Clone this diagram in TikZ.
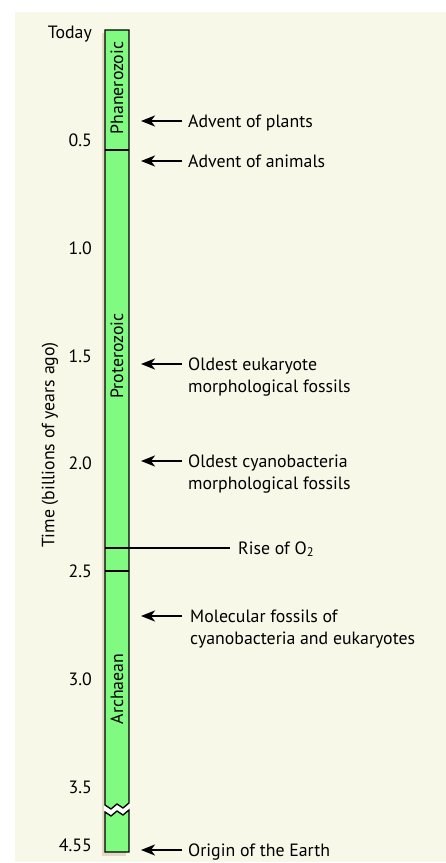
\documentclass[tikz,border=0pt]{standalone}
\usepackage{fontspec}
\setmainfont{PT Sans}
\usetikzlibrary{arrows.meta}
\definecolor{cream}{RGB}{248,248,232}
\definecolor{bargreen}{RGB}{128,250,128}
\definecolor{shadowc}{RGB}{220,210,188}
\begin{document}
\begin{tikzpicture}[x=1pt,y=-1pt,
  lbl/.style={font=\fontsize{17.8}{22}\selectfont, inner sep=0pt},
  ticklbl/.style={lbl, anchor=base east},
  evt/.style={lbl, anchor=base west, align=left},
  era/.style={lbl, rotate=90, anchor=center},
  evarrow/.style={line width=2pt, -{Stealth[length=14pt,width=11pt,inset=4pt]}},
  barline/.style={line width=1.3pt}]
\useasboundingbox (0,0) rectangle (446,863);
\fill[white] (0,0) rectangle (446,863);
\fill[cream] (15,12) rectangle (446,862);
% shadow
\fill[shadowc, opacity=0.8] (102,33) rectangle (126,855.5);
% gap of the break
\fill[white] (104,805) -- (111,809) -- (117,804) -- (123,808) -- (130,803)
  -- (130,810) -- (123,815) -- (117,811) -- (111,816) -- (104,812) -- cycle;
% upper bar part
\fill[bargreen, draw=black, line width=1.3pt] (105,30) -- (129,30) -- (129,803)
  -- (123,808) -- (117,804) -- (111,809) -- (105,805) -- cycle;
% lower bar part
\fill[bargreen, draw=black, line width=1.3pt] (105,812) -- (111,816) -- (117,811)
  -- (123,815) -- (129,810) -- (129,852) -- (105,852) -- cycle;
% boundaries
\coordinate (b1l) at (105,150); \coordinate (b1r) at (129,150);
\draw[barline] (b1l) -- (b1r);
\coordinate (b2l) at (105,571); \coordinate (b2r) at (129,571);
\draw[barline] (b2l) -- (b2r);
% era labels
\node[era] (phan) at (117,88) {Phanerozoic};
\node[era] (prot) at (117,356) {Proterozoic};
\node[era] (arch) at (117,689) {Archaean};
% axis title
\node[lbl, rotate=90] (axis) at (50,445) {Time (billions of years ago)};
% tick labels
\node[ticklbl] (t0) at (92,38) {Today};
\node[ticklbl] (t05) at (92,146.5) {0.5};
\node[ticklbl] (t10) at (92,254) {1.0};
\node[ticklbl] (t15) at (92,362) {1.5};
\node[ticklbl] (t20) at (92,469.5) {2.0};
\node[ticklbl] (t25) at (92,577.5) {2.5};
\node[ticklbl] (t30) at (92,685) {3.0};
\node[ticklbl] (t35) at (92,793) {3.5};
\node[ticklbl] (t455) at (92,851.5) {4.55};
% events
\coordinate (a1s) at (182,121); \coordinate (a1e) at (141,121);
\draw[evarrow] (a1s) -- (a1e);
\node[evt] (e1) at (188,127) {Advent of plants};
\coordinate (a2s) at (182,161); \coordinate (a2e) at (141,161);
\draw[evarrow] (a2s) -- (a2e);
\node[evt] (e2) at (188,167) {Advent of animals};
\coordinate (a3s) at (182,364); \coordinate (a3e) at (141,364);
\draw[evarrow] (a3s) -- (a3e);
\node[evt] (e3) at (188,370) {Oldest eukaryote};
\node[evt] (e3b) at (188,392) {morphological fossils};
\coordinate (a4s) at (182,461); \coordinate (a4e) at (141,461);
\draw[evarrow] (a4s) -- (a4e);
\node[evt] (e4) at (188,467) {Oldest cyanobacteria};
\node[evt] (e4b) at (188,489) {morphological fossils};
\coordinate (o2l) at (105,548); \coordinate (o2r) at (230,548);
\draw[line width=1.8pt] (o2l) -- (o2r);
\node[evt] (e5) at (238,554) {Rise of O\textsubscript{2}};
\coordinate (a6s) at (182,616); \coordinate (a6e) at (141,616);
\draw[evarrow] (a6s) -- (a6e);
\node[evt] (e6) at (190,622) {Molecular fossils of};
\node[evt] (e6b) at (190,644) {cyanobacteria and eukaryotes};
\coordinate (a7s) at (182,850); \coordinate (a7e) at (141,850);
\draw[evarrow] (a7s) -- (a7e);
\node[evt] (e7) at (188,856) {Origin of the Earth};
\end{tikzpicture}
\end{document}
